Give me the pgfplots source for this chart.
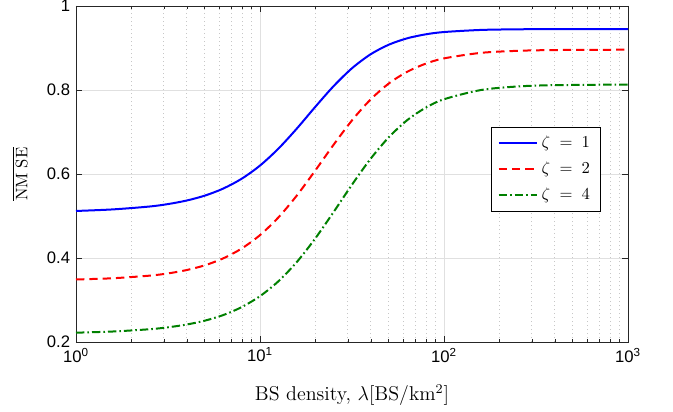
\documentclass[border=0pt]{standalone}
\usepackage{fontspec}
\usepackage{pgfplots}
\pgfplotsset{compat=1.18}
\newfontfamily\arial{Liberation Sans}
\definecolor{axgray}{rgb}{0.15,0.15,0.15}
\definecolor{mgreen}{rgb}{0,0.5,0}

\pgfplotstableread{
lam     z1      z2      z4
1       0.5120  0.3489  0.2222
1.585   0.5157  0.3518  0.2250
2.512   0.5226  0.3580  0.2304
3.162   0.5284  0.3633  0.2350
3.981   0.5367  0.3712  0.2415
5.012   0.5485  0.3826  0.2508
6.310   0.5653  0.3991  0.2641
7.943   0.5886  0.4225  0.2830
10      0.6201  0.4545  0.3092
12.59   0.6604  0.4966  0.3446
15.85   0.7081  0.5487  0.3904
19.95   0.7596  0.6080  0.4463
25.12   0.8092  0.6697  0.5095
31.62   0.8518  0.7277  0.5746
39.81   0.8847  0.7770  0.6356
50.12   0.9079  0.8155  0.6875
63.10   0.9231  0.8434  0.7282
79.43   0.9325  0.8626  0.7577
100     0.9380  0.8753  0.7780
158.5   0.9430  0.8884  0.7999
251.2   0.9445  0.8933  0.8084
398.1   0.9450  0.8951  0.8115
1000    0.9450  0.8960  0.8130
}\data

\begin{document}
\begin{tikzpicture}[x=1pt,y=1pt]
\useasboundingbox (-45.6,-41.4) rectangle (358.2,205.2);
\begin{axis}[at={(0,0)},anchor=south west,scale only axis,
  width=331.2pt,height=201.6pt,
  xmode=log,xmin=1,xmax=1000,ymin=0.2,ymax=1,
  xtick={1,10,100,1000},
  xticklabels={10\textsuperscript{0},10\textsuperscript{1},10\textsuperscript{2},10\textsuperscript{3}},
  ytick={0.2,0.4,0.6,0.8,1},
  yticklabels={0.2,0.4,0.6,0.8,1},
  ticklabel style={font=\arial},
  axis line style={axgray},
  tick style={axgray},
  minor tick length=2pt,major tick length=3.5pt,
  grid=both,
  major grid style={draw=black!12},
  minor grid style={draw=black!22,dotted},
  xlabel={BS density, $\lambda[\mathrm{BS/km^2}]$},
  xlabel style={font=\large,at={(axis description cs:0.5,-0.158)},anchor=center},
  ylabel={$\overline{\mathrm{NM\;SE}}$},
  ylabel style={at={(axis description cs:-0.1014,0.5)},anchor=center},
  legend style={at={(0.95,0.641)},anchor=north east,draw=black,fill=white,
    inner xsep=4pt,inner ysep=3.5pt,row sep=3pt,cells={anchor=west}},
  legend image code/.code={\draw[#1] (0cm,0cm) -- (0.82cm,0cm);},
]
\addplot[blue,line width=1.2pt,smooth] table[x=lam,y=z1] {\data};
\addlegendentry{$\zeta\;=\;1$}
\addplot[red,line width=1.2pt,smooth,dash pattern=on 5pt off 3pt] table[x=lam,y=z2] {\data};
\addlegendentry{$\zeta\;=\;2$}
\addplot[mgreen,line width=1.2pt,smooth,dash pattern=on 5pt off 1.8pt on 1pt off 1.8pt] table[x=lam,y=z4] {\data};
\addlegendentry{$\zeta\;=\;4$}
\end{axis}
\end{tikzpicture}
\end{document}
